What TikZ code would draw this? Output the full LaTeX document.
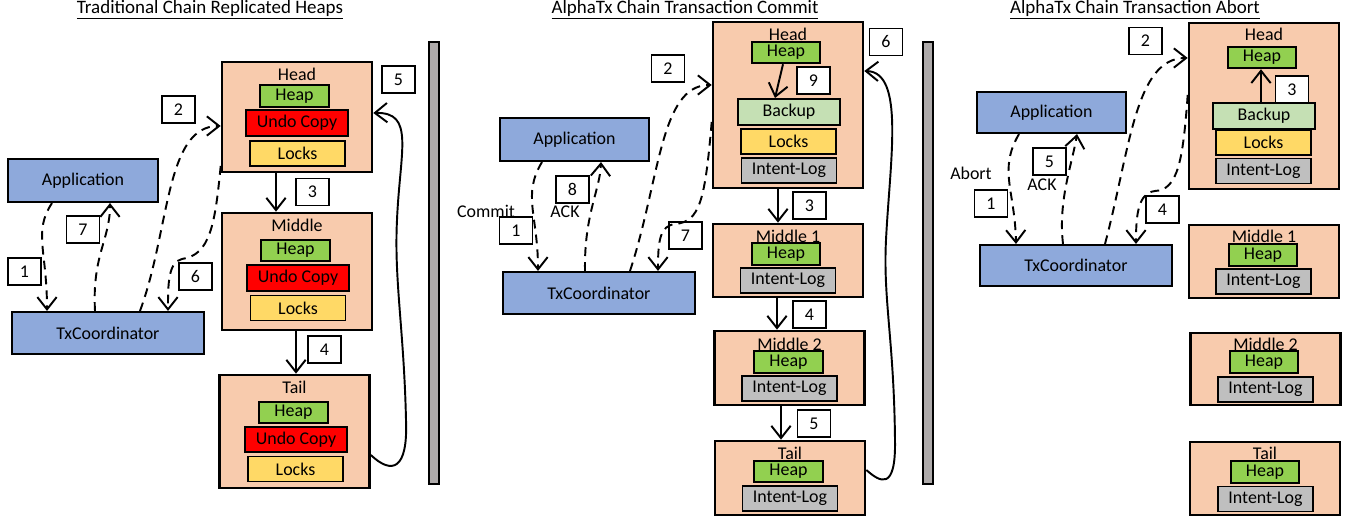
\documentclass[tikz,border=0pt]{standalone}
\usepackage{fontspec}
\setmainfont{Carlito}
\usetikzlibrary{arrows.meta}
\definecolor{appblue}{HTML}{8EA9DB}
\definecolor{peach}{HTML}{F8CBAD}
\definecolor{heapgreen}{HTML}{92D050}
\definecolor{undored}{HTML}{FF0000}
\definecolor{lockyellow}{HTML}{FFD966}
\definecolor{backgreen}{HTML}{C5E0B4}
\definecolor{loggray}{HTML}{BFBFBF}
\definecolor{bargray}{HTML}{AEAAAA}
\begin{document}
\begin{tikzpicture}[x=0.02cm, y=-0.02cm, font=\fontsize{10.2}{12}\selectfont,
  every node/.style={inner sep=0pt},
  title/.style={font=\fontsize{10.8}{12}\selectfont},
  appbox/.style={draw, line width=1.2pt, fill=appblue},
  chainbox/.style={draw, line width=1.5pt, fill=peach, minimum width=3cm},
  heapbox/.style={draw, line width=1.1pt, fill=heapgreen, minimum width=1.37cm, minimum height=0.43cm},
  undobox/.style={draw, line width=1.1pt, fill=undored, minimum width=2.04cm, minimum height=0.51cm},
  lockbox/.style={draw, line width=1.1pt, fill=lockyellow, minimum width=1.9cm, minimum height=0.5cm},
  backbox/.style={draw, line width=1.1pt, fill=backgreen, minimum width=2.04cm, minimum height=0.52cm},
  logbox/.style={draw, line width=1.1pt, fill=loggray, minimum width=1.9cm, minimum height=0.5cm},
  numbox/.style={draw, line width=0.9pt, fill=white, minimum width=0.66cm, minimum height=0.54cm},
  fwd/.style={line width=1.1pt, -{Straight Barb[length=7pt, width=11pt]}},
  msg/.style={fwd, dash pattern=on 5pt off 3.5pt}]
\useasboundingbox (0,0) rectangle (1347,516);

\node[title] (titleA) at (210,10) {\underline{Traditional Chain Replicated Heaps}};
\node[title] (titleB) at (685,10) {\underline{AlphaTx Chain Transaction Commit}};
\node[title] (titleC) at (1135,10) {\underline{AlphaTx Chain Transaction Abort}};

\fill[bargray, draw=black, line width=1.5pt] (429,42) rectangle (439,484);
\fill[bargray, draw=black, line width=1.5pt] (923,42) rectangle (933,484);

\node[appbox, minimum width=3cm, minimum height=0.86cm] (appA) at (83,180.5) {Application};
\node[appbox, minimum width=3.84cm, minimum height=0.84cm] (txA) at (108,333) {TxCoordinator};
\node[chainbox, minimum height=2.2cm] (headA) at (297,117) {};
\node (headAt) at (297,74) {Head};
\node[heapbox] (heapA1) at (294.5,96) {Heap};
\node[undobox] (undoA1) at (297,123) {Undo Copy};
\node[lockbox] (lockA1) at (297.5,153.5) {Locks};
\node[chainbox, minimum height=2.34cm] (midA) at (297,271.5) {};
\node (midAt) at (297,225) {Middle};
\node[heapbox] (heapA2) at (295.5,250.5) {Heap};
\node[undobox] (undoA2) at (298,278) {Undo Copy};
\node[lockbox] (lockA2) at (298,308) {Locks};
\node[chainbox, minimum height=2.26cm] (tailA) at (294.5,431.5) {};
\node (tailAt) at (294.5,387) {Tail};
\node[heapbox] (heapA3) at (293.5,412.5) {Heap};
\node[undobox] (undoA3) at (296,439.5) {Undo Copy};
\node[lockbox] (lockA3) at (295.5,469) {Locks};
\node[numbox] (nA1) at (24.5,271.5) {1};
\node[numbox] (nA2) at (178.5,109.5) {2};
\node[numbox] (nA3) at (312.5,192) {3};
\node[numbox] (nA4) at (324.5,349.5) {4};
\node[numbox] (nA5) at (398.5,79.5) {5};
\node[numbox] (nA6) at (195.5,276.5) {6};
\node[numbox] (nA7) at (83,229.5) {7};
\draw[msg] (52,0 |- appA.south) .. controls (33,232) and (47,250) .. (47,0 |- txA.north);
\draw[msg] (95,0 |- txA.north) .. controls (92,255) and (110,240) .. (110,0 |- appA.south);
\draw[msg] (140,0 |- txA.north) .. controls (170,230) and (165,126) .. (headA.west |- 0,126);
\draw[msg] (headA.west |- 0,166) .. controls (215,225) and (210,255) .. (182,259) .. controls (168,262) and (168,285) .. (168,0 |- txA.north);
\draw[fwd] (276,0 |- headA.south) -- (276,0 |- midA.north);
\draw[fwd] (296,0 |- midA.south) -- (296,0 |- tailA.north);
\draw[fwd] (tailA.east |- 0,455) .. controls (392,475) and (408,470) .. (406,420) .. controls (404,330) and (394,280) .. (397,220) .. controls (400,150) and (415,112) .. (headA.east |- 0,113);

\node[appbox, minimum width=2.98cm, minimum height=0.86cm] (appB) at (574.5,139.5) {Application};
\node[appbox, minimum width=3.84cm, minimum height=0.84cm] (txB) at (599,293) {TxCoordinator};
\node[chainbox, minimum height=3.32cm] (headB) at (788,105) {};
\node (headBt) at (788,34) {Head};
\node[heapbox] (heapB1) at (786,52.5) {Heap};
\node[backbox] (backB1) at (789,112) {Backup};
\node[lockbox] (lockB1) at (788.5,141.5) {Locks};
\node[logbox] (logB1) at (789,170.5) {Intent-Log};
\node[chainbox, minimum height=1.46cm] (midB1) at (788,260.5) {};
\node (midB1t) at (788,236) {Middle 1};
\node[heapbox] (heapB2) at (786,254) {Heap};
\node[logbox] (logB2) at (788,280.5) {Intent-Log};
\node[chainbox, minimum height=1.48cm] (midB2) at (789.5,368) {};
\node (midB2t) at (789.5,344) {Middle 2};
\node[heapbox] (heapB3) at (788.5,362) {Heap};
\node[logbox] (logB3) at (789.5,388.5) {Intent-Log};
\node[chainbox, minimum height=1.48cm] (tailB) at (790,478) {};
\node (tailBt) at (790,453) {Tail};
\node[heapbox] (heapB4) at (788.5,471.5) {Heap};
\node[logbox] (logB4) at (790,498.5) {Intent-Log};
\node (commitB) at (486,211) {Commit};
\node (ackB) at (565,212) {ACK};
\node[numbox] (nB1) at (516,230.5) {1};
\node[numbox] (nB2) at (668,68.5) {2};
\node[numbox] (nB3) at (809.5,205.5) {3};
\node[numbox] (nB4) at (809.5,314.5) {4};
\node[numbox] (nB5) at (814,423.5) {5};
\node[numbox] (nB6) at (886,42) {6};
\node[numbox] (nB7) at (685.5,235.5) {7};
\node[numbox] (nB8) at (572.5,189.5) {8};
\node[numbox] (nB9) at (813.5,80.5) {9};
\draw[msg] (542,0 |- appB.south) .. controls (522,195) and (538,215) .. (538,0 |- txB.north);
\draw[msg] (585,0 |- txB.north) .. controls (584,215) and (600,190) .. (601,0 |- appB.south);
\draw[msg] (630,0 |- txB.north) .. controls (660,180) and (660,85) .. (headB.west |- 0,85);
\draw[msg] (headB.west |- 0,122) .. controls (705,200) and (700,222) .. (675,224) .. controls (660,226) and (658,240) .. (658,0 |- txB.north);
\draw[fwd] (783,0 |- heapB1.south) -- (775,0 |- backB1.north);
\draw[fwd] (778,0 |- headB.south) -- (778,0 |- midB1.north);
\draw[fwd] (777,0 |- midB1.south) -- (777,0 |- midB2.north);
\draw[fwd] (781,0 |- midB2.south) -- (781,0 |- tailB.north);
\draw[fwd] (tailB.east |- 0,470) .. controls (880,482) and (896,492) .. (895,440) .. controls (894,340) and (883,300) .. (886,240) .. controls (890,160) and (905,72) .. (headB.east |- 0,71);

\node[appbox, minimum width=2.98cm, minimum height=0.82cm] (appC) at (1051.5,112.5) {Application};
\node[appbox, minimum width=3.84cm, minimum height=0.82cm] (txC) at (1076,265.5) {TxCoordinator};
\node[chainbox, minimum height=3.32cm] (headC) at (1264,106) {};
\node (headCt) at (1264,34) {Head};
\node[heapbox] (heapC1) at (1262,57.5) {Heap};
\node[backbox] (backC1) at (1264,116) {Backup};
\node[lockbox] (lockC1) at (1263.5,142.5) {Locks};
\node[logbox] (logC1) at (1263.5,171) {Intent-Log};
\node[chainbox, minimum height=1.46cm] (midC1) at (1264,261.5) {};
\node (midC1t) at (1264,236) {Middle 1};
\node[heapbox] (heapC2) at (1263,255) {Heap};
\node[logbox] (logC2) at (1263.5,281.5) {Intent-Log};
\node[chainbox, minimum height=1.44cm] (midC2) at (1265.5,369) {};
\node (midC2t) at (1265.5,344) {Middle 2};
\node[heapbox] (heapC3) at (1264,362) {Heap};
\node[logbox] (logC3) at (1265.5,389.5) {Intent-Log};
\node[chainbox, minimum height=1.46cm] (tailC) at (1265,478.5) {};
\node (tailCt) at (1265,453) {Tail};
\node[heapbox] (heapC4) at (1265,472) {Heap};
\node[logbox] (logC4) at (1265.5,499) {Intent-Log};
\node (abortC) at (971,173) {Abort};
\node (ackC) at (1042,185) {ACK};
\node[numbox] (nC1) at (991,203.5) {1};
\node[numbox] (nC2) at (1145.5,41) {2};
\node[numbox] (nC3) at (1292,89.5) {3};
\node[numbox] (nC4) at (1162.5,209.5) {4};
\node[numbox] (nC5) at (1049.5,161.5) {5};
\draw[msg] (1019,0 |- appC.south) .. controls (998,170) and (1015,190) .. (1016,0 |- txC.north);
\draw[msg] (1063,0 |- txC.north) .. controls (1058,200) and (1072,165) .. (1077,0 |- appC.south);
\draw[msg] (1105,0 |- txC.north) .. controls (1130,150) and (1135,58) .. (headC.west |- 0,58);
\draw[msg] (headC.west |- 0,95) .. controls (1183,160) and (1178,190) .. (1155,191) .. controls (1138,193) and (1136,215) .. (1136,0 |- txC.north);
\draw[fwd] (1261,0 |- backC1.north) -- (1261,0 |- heapC1.south);
\end{tikzpicture}
\end{document}
